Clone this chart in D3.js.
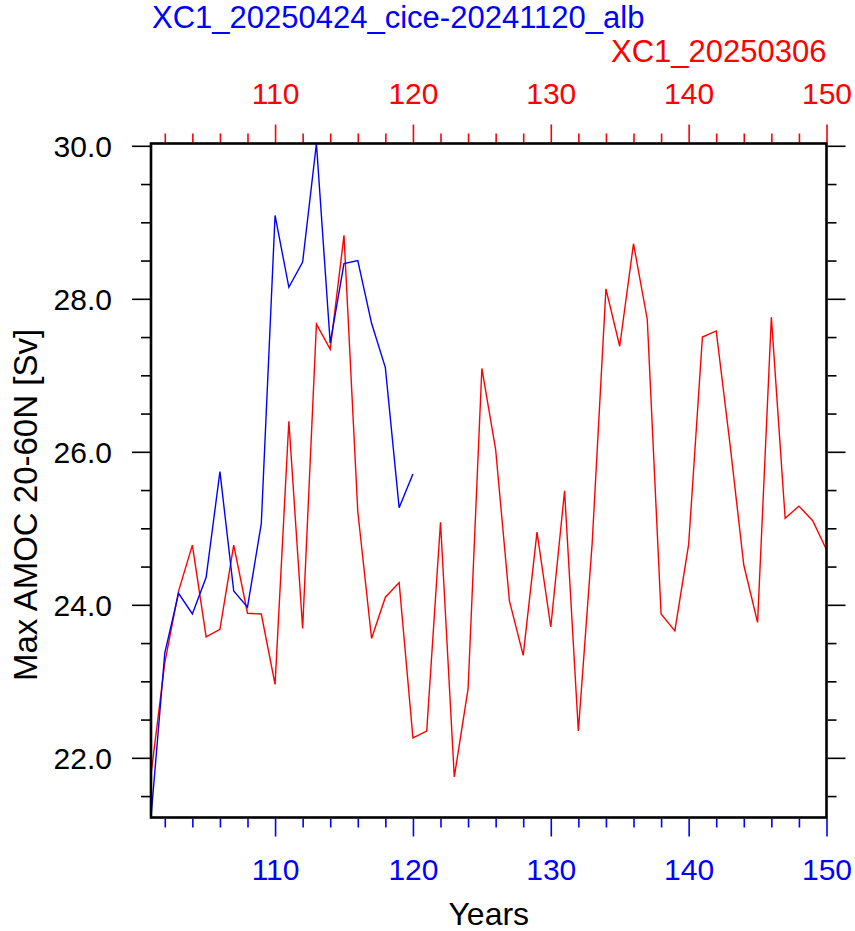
<!DOCTYPE html>
<html>
<head>
<meta charset="utf-8">
<script src="https://cdn.jsdelivr.net/npm/d3@7"></script>
<style>
  body { margin: 0; background: #fff; }
  svg text { font-family: "Liberation Sans", Arial, Helvetica, sans-serif; }
</style>
</head>
<body>
<div id="chart"></div>
<script>
var w = 855,
    h = 931;

// years and max AMOC (Sv)
var yearsBlue = [101, 102, 103, 104, 105, 106, 107, 108, 109, 110,
                 111, 112, 113, 114, 115, 116, 117, 118, 119, 120];
var amocBlue = [21.22, 23.37, 24.15, 23.88, 24.36, 25.74, 24.18, 23.97, 25.06, 29.09,
                28.15, 28.48, 30.03, 27.42, 28.46, 28.50, 27.68, 27.10, 25.27, 25.71];

var yearsRed = [101, 102, 103, 104, 105, 106, 107, 108, 109, 110,
                111, 112, 113, 114, 115, 116, 117, 118, 119, 120,
                121, 122, 123, 124, 125, 126, 127, 128, 129, 130,
                131, 132, 133, 134, 135, 136, 137, 138, 139, 140,
                141, 142, 143, 144, 145, 146, 147, 148, 149, 150];
var amocRed = [21.78, 23.24, 24.18, 24.78, 23.58, 23.68, 24.78, 23.89, 23.88, 22.96,
               26.40, 23.69, 27.67, 27.34, 28.83, 25.22, 23.56, 24.10, 24.29, 22.26,
               22.35, 25.08, 21.75, 22.90, 27.09, 26.03, 24.05, 23.34, 24.95, 23.71,
               25.49, 22.35, 24.80, 28.13, 27.38, 28.72, 27.73, 23.88, 23.66, 24.79,
               27.50, 27.58, 26.10, 24.52, 23.77, 27.76, 25.13, 25.29, 25.10, 24.72];

var xMajor = [110, 120, 130, 140, 150];
var xMinor = [102, 104, 106, 108, 112, 114, 116, 118, 122, 124, 126, 128,
              132, 134, 136, 138, 142, 144, 146, 148];
var yMajor = [22, 24, 26, 28, 30];
var yMinor = [21.5, 22.5, 23, 23.5, 24.5, 25, 25.5, 26.5, 27, 27.5, 28.5, 29, 29.5];

var titleBlue = "XC1_20250424_cice-20241120_alb",
    titleRed = "XC1_20250306";

// plot frame (window.top is read-only, so no "top" here)
var pLeft = 151, pRight = 826.5, pTop = 143.5, pBottom = 817.5;

var svg = d3.select("#chart")
            .append("svg")
            .attr("width", w)
            .attr("height", h);

var x = d3.scaleLinear()
          .domain([101, 150])
          .range([pLeft, pRight]);

var allVals = amocBlue.concat(amocRed);
var y = d3.scaleLinear()
          .domain(d3.extent(allVals))
          .range([pBottom, pTop]);

// --- lines ---
var line = d3.line()
             .x(function(d) { return x(d[0]); })
             .y(function(d) { return y(d[1]); });

svg.append("path")
   .datum(d3.zip(yearsRed, amocRed))
   .attr("d", line)
   .attr("fill", "none")
   .attr("stroke", "#ff0000")
   .attr("stroke-width", 1.4);

svg.append("path")
   .datum(d3.zip(yearsBlue, amocBlue))
   .attr("d", line)
   .attr("fill", "none")
   .attr("stroke", "#0000ff")
   .attr("stroke-width", 1.4);

// --- axes ---
function styleAxis(g, color) {
  g.select(".domain").remove();
  g.selectAll(".tick line").attr("stroke", color).attr("stroke-width", 1.6);
  g.selectAll("text").attr("fill", color).attr("font-size", "30px");
}

// bottom (blue)
var gb = svg.append("g").attr("transform", "translate(0," + (pBottom + 1) + ")");
gb.call(d3.axisBottom(x).tickValues(xMajor).tickSize(18).tickFormat(d3.format("d")));
styleAxis(gb, "#0000ff");
gb.selectAll("text").attr("y", 61).attr("dy", 0);
var gbm = svg.append("g").attr("transform", "translate(0," + (pBottom + 1) + ")");
gbm.call(d3.axisBottom(x).tickValues(xMinor).tickSize(9).tickFormat(""));
styleAxis(gbm, "#0000ff");

// top (red)
var gt = svg.append("g").attr("transform", "translate(0," + (pTop - 1) + ")");
gt.call(d3.axisTop(x).tickValues(xMajor).tickSize(18).tickFormat(d3.format("d")));
styleAxis(gt, "#ff0000");
gt.selectAll("text").attr("y", -39).attr("dy", 0);
var gtm = svg.append("g").attr("transform", "translate(0," + (pTop - 1) + ")");
gtm.call(d3.axisTop(x).tickValues(xMinor).tickSize(9).tickFormat(""));
styleAxis(gtm, "#ff0000");

// left
var gl = svg.append("g").attr("transform", "translate(" + (pLeft - 1) + ",0)");
gl.call(d3.axisLeft(y).tickValues(yMajor).tickSize(18).tickFormat(d3.format(".1f")));
styleAxis(gl, "#000");
gl.selectAll("text").attr("x", -38).attr("dy", "0.36em");
var glm = svg.append("g").attr("transform", "translate(" + (pLeft - 1) + ",0)");
glm.call(d3.axisLeft(y).tickValues(yMinor).tickSize(9).tickFormat(""));
styleAxis(glm, "#000");

// right
var gr = svg.append("g").attr("transform", "translate(" + (pRight + 1) + ",0)");
gr.call(d3.axisRight(y).tickValues(yMajor).tickSize(18).tickFormat(""));
styleAxis(gr, "#000");
var grm = svg.append("g").attr("transform", "translate(" + (pRight + 1) + ",0)");
grm.call(d3.axisRight(y).tickValues(yMinor).tickSize(9).tickFormat(""));
styleAxis(grm, "#000");

// frame
svg.append("rect")
   .attr("x", pLeft)
   .attr("y", pTop)
   .attr("width", pRight - pLeft)
   .attr("height", pBottom - pTop)
   .attr("fill", "none")
   .attr("stroke", "#000")
   .attr("stroke-width", 2.6);

// --- titles ---
svg.append("text")
   .text(titleBlue)
   .attr("x", pLeft + 1)
   .attr("y", 28)
   .attr("font-size", "31px")
   .attr("fill", "#0000ff");

svg.append("text")
   .text(titleRed)
   .attr("x", pRight)
   .attr("y", 62)
   .attr("text-anchor", "end")
   .attr("font-size", "31px")
   .attr("fill", "#ff0000");

svg.append("text")
   .text("Years")
   .attr("x", (pLeft + pRight) / 2)
   .attr("y", 925)
   .attr("text-anchor", "middle")
   .attr("font-size", "32px")
   .attr("fill", "#000");

svg.append("text")
   .text("Max AMOC 20-60N [Sv]")
   .attr("transform", "translate(37,505) rotate(-90)")
   .attr("text-anchor", "middle")
   .attr("font-size", "33px")
   .attr("fill", "#000");
</script>
</body>
</html>
